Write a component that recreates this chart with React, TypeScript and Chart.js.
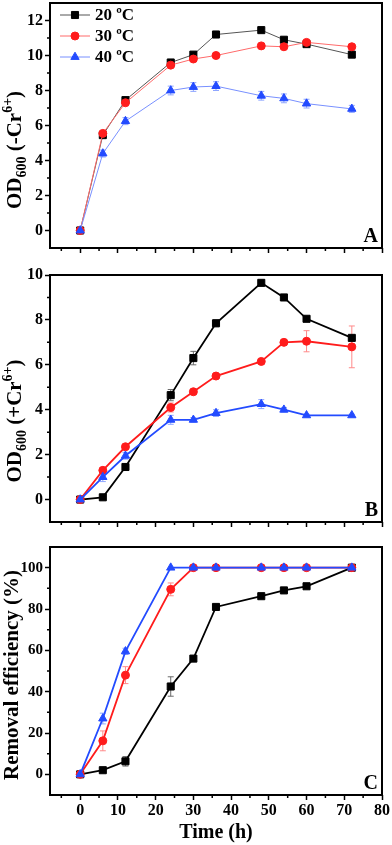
import React, { useEffect, useRef } from 'react';
import { Chart, registerables } from 'chart.js';
import { drawPoint } from 'chart.js/helpers';
Chart.register(...registerables);

// ---------- data ----------
const hours = [0, 6, 12, 24, 30, 36, 48, 54, 60, 72];
const seriesNames = ['20 ºC', '30 ºC', '40 ºC'];

// Panel A: OD600 without Cr(VI)
const odNoCr20 = [0, 5.45, 7.45, 9.6, 10.05, 11.2, 11.45, 10.9, 10.65, 10.05];
const odNoCr30 = [0, 5.55, 7.3, 9.45, 9.8, 10.0, 10.55, 10.5, 10.75, 10.5];
const odNoCr40 = [0, 4.4, 6.25, 8.0, 8.2, 8.25, 7.7, 7.55, 7.25, 6.95];
const odNoCrErr20 = [0, 0.1, 0.1, 0.1, 0.1, 0.1, 0.1, 0.1, 0.1, 0.1];
const odNoCrErr30 = [0, 0.1, 0.1, 0.1, 0.1, 0.1, 0.1, 0.1, 0.1, 0.1];
const odNoCrErr40 = [0, 0.2, 0.2, 0.25, 0.25, 0.25, 0.25, 0.25, 0.25, 0.2];

// Panel B: OD600 with Cr(VI)
const odCr20 = [0, 0.1, 1.45, 4.65, 6.3, 7.85, 9.65, 9.0, 8.05, 7.2];
const odCr30 = [0, 1.3, 2.35, 4.1, 4.8, 5.5, 6.15, 7.0, 7.05, 6.8];
const odCr40 = [0, 1.0, 1.95, 3.55, 3.55, 3.85, 4.25, 4.0, 3.75, 3.75];
const odCrErr20 = [0, 0, 0.1, 0.25, 0.3, 0.15, 0.05, 0.05, 0.05, 0.1];
const odCrErr30 = [0, 0.05, 0.1, 0.2, 0.1, 0.05, 0.1, 0.05, 0.47, 0.93];
const odCrErr40 = [0, 0.2, 0.15, 0.2, 0.1, 0.15, 0.2, 0.1, 0.05, 0.05];

// Panel C: removal efficiency (%)
const removal20 = [0, 2, 6.3, 42.5, 56, 81, 86.2, 89, 91, 100];
const removal30 = [0, 16.2, 48, 89.5, 100, 100, 100, 100, 100, 100];
const removal40 = [0, 27, 59.5, 100, 100, 100, 100, 100, 100, 100];
const removalErr20 = [0, 0.5, 2.3, 4.7, 1, 0.5, 0.5, 0.5, 0.5, 0];
const removalErr30 = [0, 4.8, 4.1, 3.1, 0, 0, 0, 0, 0, 0];
const removalErr40 = [0, 2.6, 1.5, 0, 0, 0, 0, 0, 0, 0];

// ticks
const xTicks = [0, 10, 20, 30, 40, 50, 60, 70, 80];
const xMinor = [-5, 5, 15, 25, 35, 45, 55, 65, 75];
const yTicksA = [0, 2, 4, 6, 8, 10, 12];
const yMinorA = [1, 3, 5, 7, 9, 11];
const yTicksB = [0, 2, 4, 6, 8, 10];
const yMinorB = [1, 3, 5, 7, 9];
const yTicksC = [0, 20, 40, 60, 80, 100];
const yMinorC = [10, 30, 50, 70, 90];

// ---------- styling ----------
const FONT = '"Liberation Serif", "Times New Roman", serif';
const markerColors = ['#000000', '#ff1c1c', '#234bff'];
const markerStyles = ['rect', 'circle', 'triangle'];
const markerRadius = [5, 4, 4.8];
const lightLineColors = ['#555555', '#ff6a6a', '#7890ff'];
const errColors = ['#6a6a6a', '#ff8a8a', '#8fa6ff'];

type Piece = { t: string; s: number; dy?: number };

type PanelCfg = {
  top: number;
  h: number;
  padTop: number;
  xh: number;
  yMin: number;
  yMax: number;
  yTicks: number[];
  yMinor: number[];
  series: number[][];
  errors: number[][];
  letter: string;
  legend: boolean;
  showX: boolean;
  lineWidth: number;
  lineColors: string[];
  title: Piece[];
  titleCy: number;
  titleBx: number;
  yTickSize: number;
};

const panels: PanelCfg[] = [
  {
    top: -15, h: 280, padTop: 18, xh: 17, yMin: -1, yMax: 13,
    yTicks: yTicksA, yMinor: yMinorA,
    series: [odNoCr20, odNoCr30, odNoCr40],
    errors: [odNoCrErr20, odNoCrErr30, odNoCrErr40],
    letter: 'A', legend: true, showX: false, lineWidth: 1, lineColors: lightLineColors,
    title: [{ t: 'OD', s: 21 }, { t: '600', s: 14, dy: 5 }, { t: ' (-Cr', s: 21 }, { t: '6+', s: 14, dy: -9 }, { t: ')', s: 21 }],
    titleCy: 150, titleBx: 21, yTickSize: 16,
  },
  {
    top: 255, h: 285, padTop: 20, xh: 18, yMin: -1, yMax: 10,
    yTicks: yTicksB, yMinor: yMinorB,
    series: [odCr20, odCr30, odCr40],
    errors: [odCrErr20, odCrErr30, odCrErr40],
    letter: 'B', legend: false, showX: false, lineWidth: 1.8, lineColors: markerColors,
    title: [{ t: 'OD', s: 21 }, { t: '600', s: 14, dy: 5 }, { t: ' (+Cr', s: 21 }, { t: '6+', s: 14, dy: -9 }, { t: ')', s: 21 }],
    titleCy: 421, titleBx: 21, yTickSize: 16,
  },
  {
    top: 532, h: 313, padTop: 15, xh: 50, yMin: -10, yMax: 110,
    yTicks: yTicksC, yMinor: yMinorC,
    series: [removal20, removal30, removal40],
    errors: [removalErr20, removalErr30, removalErr40],
    letter: 'C', legend: false, showX: true, lineWidth: 1.8, lineColors: markerColors,
    title: [{ t: 'Removal efficiency (%)', s: 21 }],
    titleCy: 675, titleBx: 18, yTickSize: 15,
  },
];

function makePlugin(cfg: PanelCfg) {
  return {
    id: 'panelDeco' + cfg.letter,
    beforeDatasetsDraw(chart: any) {
      const ctx = chart.ctx;
      const xs = chart.scales.x;
      const ys = chart.scales.y;
      cfg.errors.forEach((errs, di) => {
        ctx.save();
        ctx.strokeStyle = errColors[di];
        ctx.lineWidth = 1;
        hours.forEach((h, i) => {
          const e = errs[i];
          if (!e) return;
          const v = cfg.series[di][i];
          const px = xs.getPixelForValue(h);
          const y1 = ys.getPixelForValue(v + e);
          const y2 = ys.getPixelForValue(v - e);
          ctx.beginPath();
          ctx.moveTo(px, y1); ctx.lineTo(px, y2);
          ctx.moveTo(px - 3, y1); ctx.lineTo(px + 3, y1);
          ctx.moveTo(px - 3, y2); ctx.lineTo(px + 3, y2);
          ctx.stroke();
        });
        ctx.restore();
      });
    },
    afterDraw(chart: any) {
      const ctx = chart.ctx;
      const { left, right, top, bottom } = chart.chartArea;
      const xs = chart.scales.x;
      const ys = chart.scales.y;
      ctx.save();
      // frame
      ctx.strokeStyle = '#000';
      ctx.lineWidth = 2;
      ctx.strokeRect(left, top, right - left, bottom - top);
      // minor ticks
      ctx.lineWidth = 1.5;
      ctx.beginPath();
      xMinor.forEach((v) => {
        const px = xs.getPixelForValue(v);
        ctx.moveTo(px, bottom); ctx.lineTo(px, bottom + 3);
      });
      cfg.yMinor.forEach((v) => {
        const py = ys.getPixelForValue(v);
        ctx.moveTo(left, py); ctx.lineTo(left - 3, py);
      });
      ctx.stroke();
      // panel letter
      ctx.fillStyle = '#000';
      ctx.font = `bold 20px ${FONT}`;
      ctx.textAlign = 'right';
      ctx.textBaseline = 'alphabetic';
      ctx.fillText(cfg.letter, right - 4, bottom - 6);
      // y title (rotated, rich text)
      ctx.save();
      ctx.translate(cfg.titleBx, cfg.titleCy - cfg.top);
      ctx.rotate(-Math.PI / 2);
      ctx.textAlign = 'left';
      let total = 0;
      cfg.title.forEach((p) => {
        ctx.font = `bold ${p.s}px ${FONT}`;
        total += ctx.measureText(p.t).width;
      });
      let tx = -total / 2;
      cfg.title.forEach((p) => {
        ctx.font = `bold ${p.s}px ${FONT}`;
        ctx.fillText(p.t, tx, p.dy || 0);
        tx += ctx.measureText(p.t).width;
      });
      ctx.restore();
      // x title
      if (cfg.showX) {
        ctx.font = `bold 20px ${FONT}`;
        ctx.textAlign = 'center';
        ctx.textBaseline = 'middle';
        ctx.fillText('Time (h)', (left + right) / 2, 833 - cfg.top);
      }
      // legend
      if (cfg.legend) {
        const rows = [12, 33, 54];
        seriesNames.forEach((name, i) => {
          const y = top + rows[i];
          ctx.strokeStyle = cfg.lineColors[i];
          ctx.lineWidth = 1;
          ctx.beginPath();
          ctx.moveTo(left + 10, y); ctx.lineTo(left + 40, y);
          ctx.stroke();
          ctx.fillStyle = markerColors[i];
          ctx.strokeStyle = markerColors[i];
          drawPoint(ctx, { pointStyle: markerStyles[i] as any, radius: markerRadius[i], rotation: 0, borderWidth: 1 } as any, left + 25, y);
          ctx.fillStyle = '#000';
          ctx.font = `bold 17px ${FONT}`;
          ctx.textAlign = 'left';
          ctx.textBaseline = 'middle';
          ctx.fillText(name, left + 45, y + 1);
        });
      }
      ctx.restore();
    },
  };
}

function buildConfig(cfg: PanelCfg): any {
  const order = [2, 1, 0];
  const datasets = cfg.series.map((vals, i) => ({
    label: seriesNames[i],
    data: hours.map((h, k) => ({ x: h, y: vals[k] })),
    borderColor: cfg.lineColors[i],
    borderWidth: cfg.lineWidth,
    backgroundColor: markerColors[i],
    pointBackgroundColor: markerColors[i],
    pointBorderColor: markerColors[i],
    pointBorderWidth: 1,
    pointStyle: markerStyles[i],
    pointRadius: markerRadius[i],
    pointHoverRadius: markerRadius[i],
    tension: 0,
    fill: false,
    order: order[i],
    clip: false,
  }));
  const tickFontX = { family: FONT, weight: 'bold', size: 16 };
  const tickFontY = { family: FONT, weight: 'bold', size: cfg.yTickSize };
  const gridOpts = { drawOnChartArea: false, drawTicks: true, tickLength: 5, tickWidth: 1.5, color: '#000' };
  return {
    type: 'line',
    data: { datasets },
    plugins: [makePlugin(cfg)],
    options: {
      animation: false,
      responsive: false,
      devicePixelRatio: 1,
      layout: { padding: { top: cfg.padTop, right: 10, left: 0, bottom: 0 } },
      plugins: { legend: { display: false }, tooltip: { enabled: false } },
      events: [],
      scales: {
        x: {
          type: 'linear',
          min: -8,
          max: 80,
          afterBuildTicks: (s: any) => { s.ticks = xTicks.map((v) => ({ value: v })); },
          afterFit: (s: any) => { s.height = cfg.xh; },
          grid: gridOpts,
          border: { display: false },
          ticks: { display: cfg.showX, font: tickFontX, color: '#000', padding: 1, maxRotation: 0, autoSkip: false },
        },
        y: {
          type: 'linear',
          min: cfg.yMin,
          max: cfg.yMax,
          afterBuildTicks: (s: any) => { s.ticks = cfg.yTicks.map((v) => ({ value: v })); },
          afterFit: (s: any) => { s.width = 50; },
          grid: gridOpts,
          border: { display: false },
          ticks: { font: tickFontY, color: '#000', padding: 2, autoSkip: false },
        },
      },
    },
  };
}

function Panel({ cfg }: { cfg: PanelCfg }) {
  const ref = useRef<HTMLCanvasElement>(null);
  useEffect(() => {
    const chart = new Chart(ref.current as HTMLCanvasElement, buildConfig(cfg));
    return () => chart.destroy();
  }, [cfg]);
  return (
    <canvas
      ref={ref}
      width={392}
      height={cfg.h}
      style={{ position: 'absolute', left: 0, top: cfg.top, width: 392, height: cfg.h }}
    />
  );
}

export default function App() {
  return (
    <div style={{ position: 'absolute', left: 0, top: 0, width: 392, height: 845, overflow: 'hidden', background: '#fff' }}>
      {panels.map((p) => (
        <Panel key={p.letter} cfg={p} />
      ))}
    </div>
  );
}
